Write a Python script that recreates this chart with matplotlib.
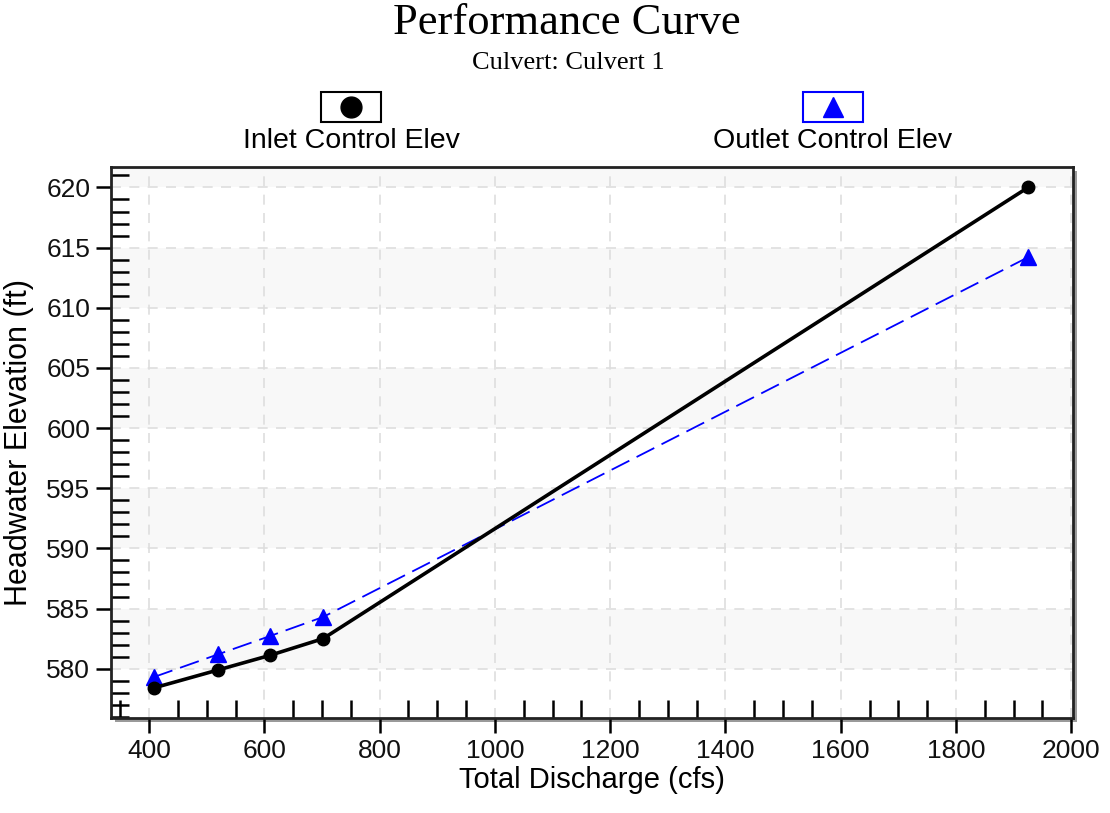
import matplotlib.pyplot as plt
from matplotlib.patches import Rectangle
from matplotlib.ticker import MultipleLocator

# values
discharge = [408, 520, 609, 702, 1925]
inlet_elev = [578.4, 579.9, 581.1, 582.5, 620.0]
outlet_elev = [579.3, 581.2, 582.7, 584.3, 614.2]

x_ticks = [400, 600, 800, 1000, 1200, 1400, 1600, 1800, 2000]
y_ticks = [580, 585, 590, 595, 600, 605, 610, 615, 620]
shaded_bands = [(580, 585), (590, 595), (600, 605), (610, 615), (620, 625)]

sans = "Liberation Sans"
serif = "Liberation Serif"

fig = plt.figure(figsize=(11.1, 8.13), dpi=100)
ax = fig.add_axes([0.1, 0.1168, 0.8667, 0.6778])

# drop shadow behind the plot box
shadow = Rectangle((0.1 + 0.004, 0.1168 - 0.005), 0.8667, 0.6778,
                   transform=fig.transFigure, facecolor="#9a9a9a",
                   edgecolor="none", zorder=-10)
fig.patches.append(shadow)
ax.set_facecolor("white")

for lo, hi in shaded_bands:
    ax.axhspan(lo, hi, color="#f8f8f8", zorder=0, lw=0)

ax.plot(discharge, inlet_elev, color="black", lw=2.6, marker="o",
        markersize=9, zorder=4)
ax.plot(discharge, outlet_elev, color="blue", lw=1.3, dashes=(11, 4.5),
        marker="^", markersize=11, zorder=3)

ax.set_xlim(334, 2003)
ax.set_ylim(575.9, 621.7)

ax.set_xticks(x_ticks)
ax.set_yticks(y_ticks)
ax.xaxis.set_minor_locator(MultipleLocator(50))
ax.yaxis.set_minor_locator(MultipleLocator(1))
ax.tick_params(which="major", direction="out", length=11, width=1.8,
               labelsize=19, pad=4)
ax.tick_params(which="minor", direction="in", length=13, width=1.8)
for lab in ax.get_xticklabels() + ax.get_yticklabels():
    lab.set_fontfamily(sans)
    lab.set_color("#111111")

ax.grid(True, which="major", color="#dedede", linestyle=(0, (6, 5)), lw=1.2, zorder=1)
ax.set_axisbelow(True)
for sp in ax.spines.values():
    sp.set_linewidth(2)
    sp.set_color("#222222")

ax.set_xlabel("Total Discharge (cfs)", fontsize=21, family=sans, labelpad=2)
ax.set_ylabel("Headwater Elevation (ft)", fontsize=22, family=sans, labelpad=9)

# title block
fig.text(0.511, 0.972, "Performance Curve", ha="center", va="center",
         fontsize=32, family=serif)
fig.text(0.512, 0.922, "Culvert: Culvert 1", ha="center", va="center",
         fontsize=19, family=serif)

# legend drawn above the plot: symbol box with label underneath
legend_items = [
    ("Inlet Control Elev", "black", "o", 0.3163),
    ("Outlet Control Elev", "blue", "^", 0.7505),
]
for label, col, mk, cx in legend_items:
    fig.patches.append(Rectangle((cx - 0.027, 0.850), 0.054, 0.037,
                                 transform=fig.transFigure, facecolor="white",
                                 edgecolor=col, lw=1.5))
    fig.add_artist(plt.Line2D([cx], [0.8685], transform=fig.transFigure,
                              marker=mk, color=col, markersize=15, lw=0))
    fig.text(cx, 0.8266, label, ha="center", va="center", fontsize=20.5,
             family=sans)

fig.savefig("out.png", dpi=100)
